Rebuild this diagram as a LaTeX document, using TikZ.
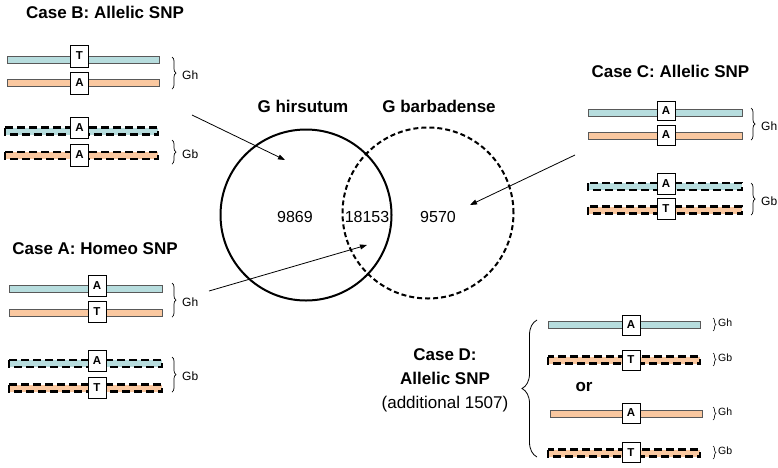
\documentclass[tikz,border=0pt]{standalone}
\usepackage{fontspec}
\setmainfont{Liberation Sans}
\usetikzlibrary{decorations.pathreplacing,arrows.meta}

\definecolor{ghblue}{RGB}{183,221,222}
\definecolor{gborange}{RGB}{250,200,160}

\tikzset{
  plainbar/.style={draw=black!65, line width=0.8pt},
  dashbar/.style={draw=black, line width=2.2pt, dash pattern=on 8pt off 4pt},
  snpbox/.style={draw, fill=white, line width=0.8pt, minimum width=18pt,
    inner sep=0pt, font=\fontsize{11.5}{11.5}\selectfont\bfseries},
  casetitle/.style={font=\fontsize{17}{20}\selectfont\bfseries},
  gtag/.style={font=\fontsize{12}{12}\selectfont, inner sep=0pt},
  smalltag/.style={font=\fontsize{10.5}{10.5}\selectfont, inner sep=0pt},
  gbrace/.style={decorate, decoration={brace, amplitude=4pt}, line width=0.7pt},
  venn/.style={circle, draw, line width=2pt, minimum size=171pt, inner sep=0pt},
  pointer/.style={line width=0.8pt, -{Triangle[length=7pt,width=5pt]}},
}

\begin{document}
\begin{tikzpicture}[x=1pt,y=-1pt]
  \useasboundingbox (0,0) rectangle (778,467);

  % case titles
  \node[casetitle] (titleB) at (105,12) {Case B: Allelic SNP};
  \node[casetitle] (titleA) at (95,249) {Case A: Homeo SNP};
  \node[casetitle, anchor=west] (titleC) at (588,71) {Case C: Allelic SNP};

  % chromosome bars: x from/x to/y/box x/box y/box height/letter/colour/style/name
  \foreach \xa/\xb/\y/\xc/\yc/\h/\snp/\col/\sty/\nm in {
      7/159/59.5/79.5/56/22/T/ghblue/plainbar/bOne,
      7/159/83/79.5/83/22/A/gborange/plainbar/bTwo,
      5/158/131/79.5/128/21/A/ghblue/dashbar/bThree,
      5/158/155.5/79.5/155/22/A/gborange/dashbar/bFour,
      9/162/289/97/285.5/21/A/ghblue/plainbar/aOne,
      9/162/312.5/97/312/21/T/gborange/plainbar/aTwo,
      9/162/363.5/97/361/21/A/ghblue/dashbar/aThree,
      9/162/388/97/387.5/21/T/gborange/dashbar/aFour,
      588/742/112.5/666/111/19/A/ghblue/plainbar/cOne,
      588/742/136/666/135/20/A/gborange/plainbar/cTwo,
      588/742/186.5/666/184/21/A/ghblue/dashbar/cThree,
      588/742/210/666/209/21/T/gborange/dashbar/cFour,
      548/700/325/631/325/20/A/ghblue/plainbar/dOne,
      548/700/360/631/360/20/T/gborange/dashbar/dTwo,
      550/702/414/631/413/20/A/gborange/plainbar/dThree,
      548/700/453/631/452.5/20/T/gborange/dashbar/dFour} {
    \fill[\col] (\xa,\y-3.5) rectangle (\xb,\y+3.5);
    \draw[\sty] (\xa,\y-3.5) rectangle (\xb,\y+3.5);
    \node[snpbox, minimum height=\h pt] (\nm) at (\xc,\yc) {\snp};
  }

  % genome braces
  \foreach \x/\ya/\yb/\g/\nm in {172/57/89/Gh/bGh, 172/140/164/Gb/bGb,
      172/283/317/Gh/aGh, 172/357/392/Gb/aGb,
      751/108/140/Gh/cGh, 751/183/215/Gb/cGb} {
    \draw[gbrace] (\x,\ya) -- (\x,\yb);
    \node[gtag, anchor=west] (\nm) at (\x+10,{(\ya+\yb)/2+2}) {\g};
  }
  \foreach \ya/\yb/\g/\nm in {318/331/Gh/dGhOne, 353/366/Gb/dGbOne,
      407/420/Gh/dGhTwo, 446/459/Gb/dGbTwo} {
    \draw[decorate, decoration={brace, amplitude=3pt}, line width=0.6pt] (713,\ya) -- (713,\yb);
    \node[smalltag, anchor=west] (\nm) at (718,\ya+5) {\g};
  }

  % venn diagram
  \node[venn] (hirsutum) at (306,215) {};
  \node[venn, dash pattern=on 5pt off 3pt] (barbadense) at (428,213) {};
  \node[casetitle] (hirName) at (303,106) {G hirsutum};
  \node[casetitle] (barName) at (439,106) {G barbadense};
  \node[font=\fontsize{16}{16}\selectfont] (onlyHir) at (295,217) {9869};
  \node[font=\fontsize{16}{16}\selectfont] (both) at (367,217) {18153};
  \node[font=\fontsize{16}{16}\selectfont] (onlyBar) at (438,217) {9570};

  % pointers
  \coordinate (fromB) at (192,115);
  \coordinate (toB) at (285,160);
  \coordinate (fromA) at (209,291);
  \coordinate (toA) at (367,245);
  \coordinate (fromC) at (575,155);
  \coordinate (toC) at (470,205);
  \draw[pointer] (fromB) -- (toB);
  \draw[pointer] (fromA) -- (toA);
  \draw[pointer] (fromC) -- (toC);

  % case D
  \node[align=center, font=\fontsize{17}{24}\selectfont] (caseD) at (445,380)
    {\textbf{Case D:}\\ \textbf{Allelic SNP}\\ (additional 1507)};
  \draw[decorate, decoration={brace, amplitude=15pt}, line width=0.8pt] (537,457) -- (537,320);
  \node[casetitle] (orText) at (584,387) {or};
\end{tikzpicture}
\end{document}
